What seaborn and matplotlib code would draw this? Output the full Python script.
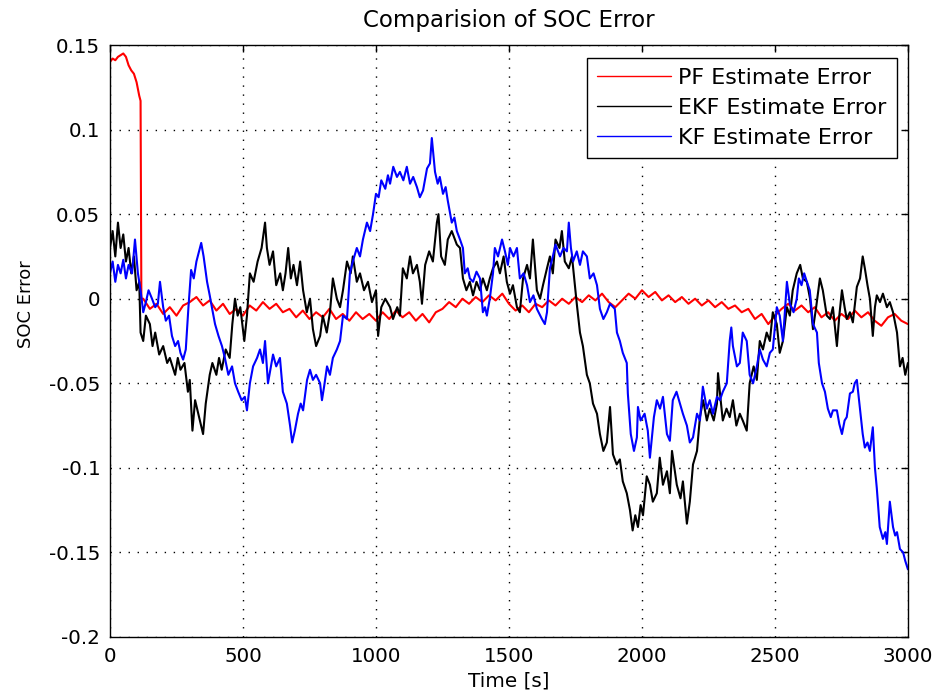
import matplotlib
matplotlib.use("Agg")
import matplotlib.pyplot as plt
import seaborn as sns
import pandas as pd

# ---------------- data ----------------
t_pf = [0, 10, 20, 30, 40, 50, 60, 70, 80, 90, 100, 110, 115, 118,
        125, 150, 175, 200, 225, 250, 275, 300, 325, 350, 375, 400, 425, 450, 475,
        500, 525, 550, 575, 600, 625, 650, 675, 700, 725, 750, 775, 800, 825, 850,
        875, 900, 925, 950, 975, 1000, 1025, 1050, 1075, 1100, 1125, 1150, 1175,
        1200, 1225, 1250, 1275, 1300, 1325, 1350, 1375, 1400, 1425, 1450, 1475,
        1500, 1525, 1550, 1575, 1600, 1625, 1650, 1675, 1700, 1725, 1750, 1775,
        1800, 1825, 1850, 1875, 1900, 1925, 1950, 1975, 2000, 2025, 2050, 2075,
        2100, 2125, 2150, 2175, 2200, 2225, 2250, 2275, 2300, 2325, 2350, 2375,
        2400, 2425, 2450, 2475, 2500, 2525, 2550, 2575, 2600, 2625, 2650, 2675,
        2700, 2725, 2750, 2775, 2800, 2825, 2850, 2875, 2900, 2925, 2950, 2975, 3000]
pf_err = [0.140, 0.142, 0.141, 0.143, 0.144, 0.145, 0.143, 0.138, 0.135, 0.133, 0.128, 0.120, 0.117, 0.000,
          0.000, -0.006, -0.003, -0.009, -0.005, -0.010, -0.004, -0.002, 0.001, -0.004, -0.001, -0.007, -0.003, -0.009, -0.006,
          -0.010, -0.004, -0.007, -0.002, -0.006, -0.003, -0.008, -0.006, -0.011, -0.007, -0.012, -0.008, -0.011, -0.006, -0.012,
          -0.009, -0.013, -0.008, -0.012, -0.009, -0.013, -0.008, -0.012, -0.007, -0.011, -0.008, -0.013, -0.009,
          -0.014, -0.008, -0.006, -0.002, -0.005, 0.000, -0.003, 0.001, -0.002, 0.002, -0.001, 0.003,
          -0.003, -0.007, -0.004, -0.008, -0.003, -0.005, -0.001, -0.004, 0.000, -0.003, 0.001, -0.002,
          0.002, -0.001, 0.003, -0.002, -0.005, -0.001, 0.003, 0.000, 0.005, 0.001, 0.004, -0.001,
          0.002, -0.002, 0.001, -0.003, 0.000, -0.004, -0.001, -0.005, -0.002, -0.006, -0.004, -0.008,
          -0.006, -0.012, -0.009, -0.015, -0.010, -0.006, -0.003, -0.007, -0.004, -0.008, -0.005, -0.011,
          -0.008, -0.013, -0.009, -0.012, -0.007, -0.011, -0.008, -0.013, -0.016, -0.011, -0.009, -0.013, -0.015]

t_ekf = [0, 10, 20, 30, 40, 50, 60, 70, 80, 90, 100, 110, 115, 125, 135, 150, 160, 170, 185, 200,
         215, 225, 245, 255, 265, 280, 293, 300, 310, 320, 335, 350, 360, 375, 385, 400, 410, 420,
         435, 450, 460, 470, 480, 490, 505, 515, 526, 540, 555, 570, 583, 590, 600, 613, 625, 640,
         650, 660, 670, 680, 690, 703, 715, 726, 740, 752, 763, 775, 790, 800, 815, 827, 838, 853,
         865, 876, 891, 905, 913, 928, 940, 955, 970, 985, 1000, 1008, 1020, 1035, 1053, 1064, 1080,
         1090, 1101, 1116, 1128, 1139, 1154, 1165, 1173, 1185, 1200, 1214, 1229, 1235, 1245, 1259,
         1270, 1285, 1304, 1316, 1327, 1340, 1353, 1365, 1378, 1391, 1402, 1417, 1428, 1440, 1455,
         1466, 1480, 1492, 1504, 1515, 1530, 1541, 1553, 1568, 1579, 1590, 1605, 1617, 1628, 1643,
         1654, 1665, 1675, 1690, 1699, 1710, 1725, 1737, 1755, 1767, 1778, 1793, 1804, 1816, 1831,
         1842, 1855, 1868, 1880, 1891, 1905, 1917, 1928, 1943, 1955, 1965, 1975, 1985, 1995, 2004,
         2018, 2030, 2041, 2056, 2067, 2079, 2094, 2105, 2113, 2131, 2145, 2154, 2169, 2180, 2192,
         2207, 2218, 2230, 2244, 2255, 2270, 2282, 2286, 2296, 2304, 2318, 2330, 2342, 2355, 2368,
         2379, 2394, 2405, 2420, 2432, 2443, 2455, 2469, 2481, 2492, 2507, 2518, 2530, 2545, 2556,
         2567, 2582, 2595, 2605, 2620, 2632, 2643, 2655, 2669, 2680, 2695, 2707, 2718, 2733, 2742,
         2752, 2762, 2770, 2782, 2793, 2808, 2820, 2830, 2838, 2848, 2857, 2868, 2876, 2883, 2895,
         2906, 2921, 2932, 2944, 2959, 2970, 2980, 2990, 3000]
ekf_err = [0.030, 0.040, 0.025, 0.045, 0.030, 0.038, 0.022, 0.030, 0.015, 0.025, 0.005, 0.010, -0.020, -0.025, -0.010, -0.015, -0.028, -0.020, -0.033, -0.028,
           -0.038, -0.035, -0.045, -0.035, -0.042, -0.038, -0.055, -0.048, -0.078, -0.060, -0.070, -0.080, -0.062, -0.045, -0.038, -0.045, -0.035, -0.042,
           -0.030, -0.035, -0.015, 0.000, -0.010, -0.005, -0.025, -0.010, 0.015, 0.010, 0.022, 0.030, 0.045, 0.030, 0.020, 0.028, 0.008, 0.015,
           0.005, 0.015, 0.030, 0.012, 0.020, 0.008, 0.022, 0.005, -0.008, 0.000, -0.018, -0.028, -0.022, -0.010, -0.020, -0.008, 0.012, 0.000,
           -0.005, 0.005, 0.022, 0.015, 0.025, 0.010, 0.015, 0.005, 0.010, -0.002, 0.005, -0.022, -0.005, 0.000, -0.005, -0.012, -0.005,
           -0.010, 0.018, 0.012, 0.025, 0.015, 0.020, 0.010, -0.003, 0.020, 0.028, 0.022, 0.045, 0.050, 0.025, 0.020,
           0.035, 0.040, 0.032, 0.030, 0.012, 0.005, 0.010, 0.002, 0.010, 0.005, 0.012, 0.005, 0.012, 0.018, 0.022,
           0.015, 0.025, 0.010, 0.003, 0.008, -0.005, -0.008, 0.012, 0.020, 0.012, 0.035, 0.005, 0.000, 0.008, 0.018,
           0.025, 0.015, 0.035, 0.030, 0.040, 0.022, 0.018, 0.025, -0.003, -0.020, -0.028, -0.045, -0.050, -0.062, -0.068,
           -0.080, -0.090, -0.085, -0.064, -0.092, -0.098, -0.095, -0.108, -0.115, -0.125, -0.137, -0.128, -0.135, -0.122, -0.128,
           -0.105, -0.110, -0.120, -0.115, -0.094, -0.110, -0.102, -0.115, -0.090, -0.110, -0.118, -0.108, -0.133, -0.120, -0.098,
           -0.090, -0.070, -0.060, -0.072, -0.065, -0.072, -0.062, -0.044, -0.060, -0.072, -0.065, -0.070, -0.060, -0.075, -0.068,
           -0.072, -0.078, -0.050, -0.040, -0.048, -0.025, -0.030, -0.020, -0.025, -0.008, -0.015, -0.032, -0.025, -0.005, -0.010,
           0.005, 0.015, 0.020, 0.012, 0.010, 0.000, -0.018, -0.005, 0.012, 0.005, -0.010, -0.012, -0.005, -0.028, -0.010,
           0.005, -0.005, -0.012, -0.008, -0.014, 0.007, 0.012, 0.025, 0.018, 0.008, 0.000, -0.022, -0.005, 0.002, -0.002,
           0.003, -0.005, -0.002, -0.008, -0.020, -0.040, -0.035, -0.045, -0.038]

t_kf = [0, 10, 20, 30, 40, 50, 60, 70, 83, 94, 105, 115, 125, 135, 145, 158, 170, 180, 188, 200,
        210, 222, 233, 245, 256, 265, 275, 285, 295, 305, 315, 325, 335, 343, 352, 365, 375, 383,
        395, 408, 421, 432, 445, 459, 470, 482, 495, 507, 515, 526, 538, 553, 564, 575, 583, 594,
        605, 613, 625, 639, 650, 665, 677, 685, 695, 707, 717, 726, 741, 752, 763, 775, 790, 797,
        805, 816, 827, 838, 853, 865, 876, 891, 902, 913, 928, 940, 951, 966, 978, 989, 1000, 1010,
        1020, 1035, 1045, 1053, 1065, 1079, 1090, 1103, 1116, 1128, 1140, 1154, 1165, 1177, 1192,
        1203, 1210, 1222, 1232, 1240, 1252, 1262, 1270, 1285, 1295, 1304, 1316, 1327, 1334, 1345,
        1353, 1365, 1378, 1391, 1402, 1410, 1417, 1428, 1440, 1447, 1459, 1474, 1485, 1496, 1504,
        1517, 1530, 1541, 1555, 1568, 1579, 1592, 1605, 1624, 1635, 1643, 1654, 1665, 1675, 1692,
        1705, 1718, 1725, 1733, 1741, 1755, 1767, 1778, 1793, 1804, 1818, 1831, 1842, 1855, 1868,
        1880, 1898, 1906, 1917, 1928, 1943, 1947, 1958, 1970, 1981, 1985, 1995, 2010, 2022, 2030,
        2045, 2056, 2068, 2079, 2094, 2105, 2116, 2130, 2143, 2154, 2169, 2180, 2192, 2207, 2218,
        2229, 2244, 2255, 2267, 2282, 2293, 2304, 2319, 2330, 2336, 2342, 2357, 2368, 2379, 2394,
        2405, 2418, 2432, 2443, 2455, 2469, 2481, 2492, 2507, 2518, 2530, 2545, 2556, 2570, 2582,
        2590, 2600, 2610, 2620, 2631, 2643, 2658, 2665, 2677, 2688, 2699, 2710, 2718, 2733, 2742,
        2752, 2762, 2770, 2782, 2793, 2800, 2808, 2819, 2830, 2838, 2848, 2857, 2868, 2876, 2883,
        2894, 2906, 2915, 2921, 2932, 2944, 2952, 2959, 2970, 2982, 2990, 3000]
kf_err = [0.015, 0.022, 0.010, 0.020, 0.015, 0.023, 0.012, 0.020, 0.015, 0.035, 0.015, 0.005, -0.008, -0.002, 0.005, 0.000, -0.005, -0.003, 0.010, -0.005,
          -0.013, -0.010, -0.022, -0.028, -0.025, -0.032, -0.036, -0.030, -0.005, 0.017, 0.012, 0.022, 0.028, 0.033, 0.025, 0.010, 0.002, -0.005,
          -0.015, -0.022, -0.028, -0.035, -0.045, -0.040, -0.050, -0.055, -0.060, -0.058, -0.066, -0.050, -0.040, -0.035, -0.030, -0.038, -0.025, -0.050,
          -0.040, -0.033, -0.040, -0.035, -0.055, -0.062, -0.075, -0.085, -0.078, -0.068, -0.062, -0.066, -0.048, -0.042, -0.048, -0.045, -0.050, -0.060,
          -0.052, -0.040, -0.045, -0.035, -0.030, -0.025, -0.010, -0.012, 0.015, 0.022, 0.030, 0.025, 0.035, 0.045, 0.040, 0.050, 0.062, 0.060,
          0.070, 0.065, 0.073, 0.068, 0.078, 0.072, 0.075, 0.070, 0.078, 0.068, 0.072, 0.066, 0.060, 0.064, 0.077,
          0.080, 0.095, 0.075, 0.068, 0.072, 0.062, 0.066, 0.058, 0.045, 0.048, 0.040, 0.035, 0.030, 0.015, 0.018,
          0.012, 0.010, 0.016, 0.012, -0.008, -0.005, -0.010, 0.000, 0.015, 0.030, 0.025, 0.035, 0.028, 0.020, 0.030,
          0.025, 0.030, 0.012, 0.015, 0.008, -0.002, 0.002, -0.006, -0.012, -0.015, -0.008, 0.018, 0.025, 0.032, 0.025,
          0.030, 0.028, 0.045, 0.030, 0.022, 0.028, 0.020, 0.028, 0.025, 0.012, 0.015, 0.008, -0.006, -0.012, -0.008,
          -0.003, -0.006, -0.020, -0.025, -0.032, -0.038, -0.056, -0.080, -0.090, -0.082, -0.064, -0.072, -0.068, -0.078, -0.094,
          -0.070, -0.060, -0.065, -0.058, -0.080, -0.084, -0.060, -0.055, -0.062, -0.068, -0.075, -0.085, -0.082, -0.068, -0.072,
          -0.052, -0.065, -0.060, -0.068, -0.058, -0.060, -0.055, -0.050, -0.025, -0.017, -0.028, -0.040, -0.038, -0.020, -0.025,
          -0.045, -0.050, -0.040, -0.030, -0.036, -0.040, -0.032, -0.030, -0.005, -0.010, -0.025, 0.010, -0.003, -0.008, 0.000,
          0.012, 0.008, 0.015, 0.010, 0.005, -0.015, -0.020, -0.038, -0.050, -0.055, -0.065, -0.070, -0.066, -0.066, -0.074,
          -0.080, -0.072, -0.070, -0.056, -0.055, -0.050, -0.048, -0.064, -0.080, -0.088, -0.085, -0.090, -0.076, -0.100, -0.112,
          -0.135, -0.142, -0.138, -0.145, -0.120, -0.135, -0.140, -0.138, -0.148, -0.150, -0.155, -0.160]

series_names = ["PF Estimate Error", "EKF Estimate Error", "KF Estimate Error"]
series_colors = ["#ff0000", "#000000", "#0000ff"]
x_ticks = [0, 500, 1000, 1500, 2000, 2500, 3000]
y_ticks = [-0.2, -0.15, -0.1, -0.05, 0, 0.05, 0.1, 0.15]
y_tick_labels = ["-0.2", "-0.15", "-0.1", "-0.05", "0", "0.05", "0.1", "0.15"]

# ---------------- build long-form table ----------------
frames = []
for name, t, v in zip(series_names, [t_pf, t_ekf, t_kf], [pf_err, ekf_err, kf_err]):
    frames.append(pd.DataFrame({"Time": t, "Error": v, "Series": name}))
df = pd.concat(frames, ignore_index=True)

sns.set_style("white")
plt.rcParams["font.family"] = ["DejaVu Sans"]
plt.rcParams["text.color"] = "black"
plt.rcParams["axes.labelcolor"] = "black"
plt.rcParams["axes.titlecolor"] = "black"

fig = plt.figure(figsize=(9.36, 7.0), dpi=100)
ax = fig.add_axes([0.1175, 0.09, 0.970 - 0.1175, 0.9357 - 0.09])

sns.lineplot(data=df, x="Time", y="Error", hue="Series", hue_order=series_names,
             palette=series_colors, estimator=None, sort=False, linewidth=1.5, ax=ax)

ax.set_xlim(0, 3000)
ax.set_ylim(-0.2, 0.15)
ax.set_xticks(x_ticks)
ax.set_xticklabels([str(x) for x in x_ticks])
ax.set_yticks(y_ticks)
ax.set_yticklabels(y_tick_labels)
ax.tick_params(direction="in", length=5, width=1, top=True, right=True,
               labelsize=14.3, colors="black", pad=7)
ax.grid(True, linestyle=(0, (1, 5.5)), color="black", linewidth=1.0)
for s in ax.spines.values():
    s.set_visible(True)
    s.set_color("black")
    s.set_linewidth(1.0)

ax.set_xlabel("Time [s]", fontsize=14.4, labelpad=4, color="black")
ax.set_ylabel("SOC Error", fontsize=13, color="black")
ax.yaxis.set_label_coords(-0.094, 0.562)
ax.set_title("Comparision of SOC Error", fontsize=16.5, pad=13, color="black")

leg = ax.legend(loc="upper right", bbox_to_anchor=(0.986, 0.978), fontsize=16,
                frameon=True, fancybox=False, edgecolor="black", framealpha=1,
                handlelength=3.3, borderpad=0.45, labelspacing=0.45, handletextpad=0.35,
                borderaxespad=0)
leg.get_frame().set_linewidth(1.0)
for line in leg.get_lines():
    line.set_linewidth(1.0)
for txt in leg.get_texts():
    txt.set_color("black")

fig.savefig("out.png", dpi=100, facecolor="white")
